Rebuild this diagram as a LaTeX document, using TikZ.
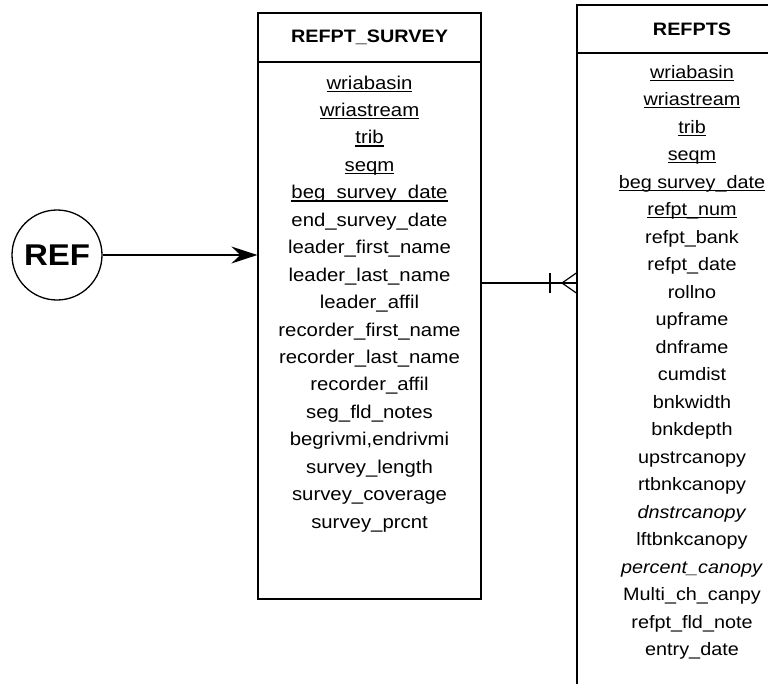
\documentclass[tikz,border=0pt]{standalone}
\usepackage{fontspec}
\setmainfont{Liberation Sans}[FakeStretch=1.1]
\usetikzlibrary{arrows.meta,shapes.geometric}
\newcommand\keyfield[1]{\setbox0=\hbox{#1}\rlap{\rule[-0.16em]{\wd0}{0.075em}}\box0}
\tikzset{
  boxline/.style={draw, line width=1.3pt},
  hdrtext/.style={font=\fontsize{18}{20}\selectfont\bfseries, inner sep=0pt},
  rowtext/.style={font=\fontsize{18.5}{20}\selectfont, inner sep=0pt, anchor=base},
  rowtextb/.style={font=\fontsize{18}{20}\selectfont, inner sep=0pt, anchor=base},
  link/.style={line width=1.2pt},
}
\begin{document}
\begin{tikzpicture}[x=1pt,y=-1pt]
\useasboundingbox (0,0) rectangle (768,683);
\clip (0,0) rectangle (768,683);
% REF circle
\node[boxline, circle, minimum size=90pt, inner sep=0pt, font=\fontsize{30}{32}\selectfont\bfseries] (ref) at (57,255) {REF};
% REFPT_SURVEY
\node[boxline, rectangle, minimum width=223pt, minimum height=49pt, inner sep=0pt] (s1h) at (369.5,37.5) {};
\node[boxline, rectangle, minimum width=223pt, minimum height=537pt, inner sep=0pt] (s1b) at (369.5,330.5) {};
\node[hdrtext] (s1t) at (369.5,37) {REFPT\_SURVEY};
% REFPTS
\node[boxline, rectangle, minimum width=230pt, minimum height=48pt, inner sep=0pt] (s2h) at (692,29) {};
\node[boxline, rectangle, minimum width=230pt, minimum height=700pt, inner sep=0pt] (s2b) at (692,403) {};
\node[hdrtext] (s2t) at (692,29) {REFPTS};
% rows of REFPT_SURVEY
\foreach \t [count=\k from 0] in {
  \keyfield{wriabasin},\keyfield{wriastream},\keyfield{trib},\keyfield{seqm},\keyfield{beg\_survey\_date},
  end\_survey\_date,leader\_first\_name,leader\_last\_name,leader\_affil,
  recorder\_first\_name,recorder\_last\_name,recorder\_affil,seg\_fld\_notes,
  {begrivmi,endrivmi},survey\_length,survey\_coverage,survey\_prcnt}
  \node[rowtext] (a\k) at (369.5,{89+27.45*\k}) {\t};
% rows of REFPTS
\foreach \t [count=\k from 0] in {
  \keyfield{wriabasin},\keyfield{wriastream},\keyfield{trib},\keyfield{seqm},\keyfield{beg survey\_date},\keyfield{refpt\_num},
  refpt\_bank,refpt\_date,rollno,upframe,dnframe,cumdist,bnkwidth,bnkdepth,
  upstrcanopy,rtbnkcanopy,\textit{dnstrcanopy},lftbnkcanopy,\textit{percent\_canopy},
  Multi\_ch\_canpy,refpt\_fld\_note,entry\_date}
  \node[rowtextb] (b\k) at (692,{78+27.5*\k}) {\t};
% arrow REF -> REFPT_SURVEY
\draw[link, -{Stealth[length=26pt,width=17pt,inset=9pt]}] (ref.east) -- (s1b.west |- ref.east);
% one-to-many connector
\coordinate (cy) at (0,283);
\coordinate (bar) at (550,283);
\coordinate (apex) at (562,283);
\draw[link] (s1b.east |- cy) -- (s2b.west |- cy);
\draw[link] ([yshift=-10pt]bar) -- ([yshift=10pt]bar);
\draw[link] ([yshift=-10pt]s2b.west |- cy) -- (apex) -- ([yshift=10pt]s2b.west |- cy);
\end{tikzpicture}
\end{document}
